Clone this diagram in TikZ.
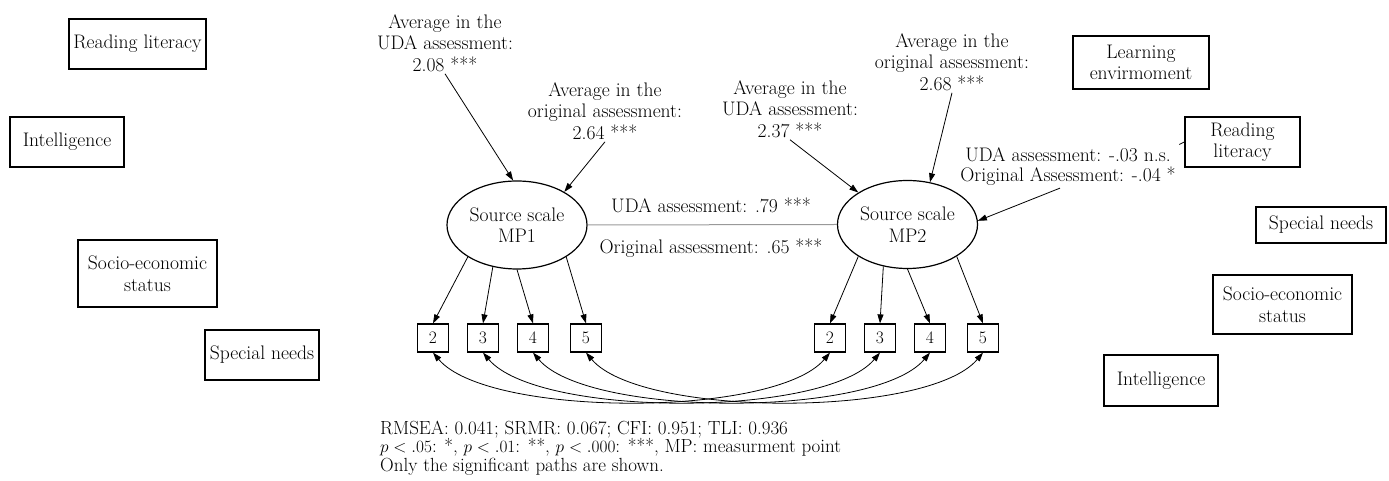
\documentclass[tikz,border=0pt]{standalone}
\usepackage{tikz}
\usetikzlibrary{arrows.meta, shapes.geometric}

\begin{document}
\begin{tikzpicture}[x=1pt, y=1pt,
        every node/.style={font=\fontsize{19.6}{21.5}\selectfont},
        covbox/.style={draw, line width=1.3pt, align=center, inner sep=2pt},
        latent/.style={draw, ellipse, line width=1.2pt, align=center, minimum width=140pt, minimum height=88pt, inner sep=0pt},
        itembox/.style={draw, line width=1.2pt, minimum width=31pt, minimum height=28pt, inner sep=0pt, font=\fontsize{17.5}{21}\selectfont},
        effect/.style={align=center, inner sep=2pt},
        onearrow/.style={-{Triangle[length=9pt, width=6pt]}, line width=0.8pt},
        twoarrow/.style={{Triangle[length=9pt, width=6pt]}-{Triangle[length=9pt, width=6pt]}, line width=0.8pt}]

            \useasboundingbox (0,0) rectangle (1389,481);

            \node[covbox, minimum width=137pt, minimum height=50pt] (readL) at (137.5,437) {Reading literacy};
            \node[covbox, minimum width=114pt, minimum height=50pt] (intelL) at (67,339) {Intelligence};
            \node[covbox, minimum width=139pt, minimum height=67pt] (sesL) at (147.5,207.5) {Socio-economic\\ status};
            \node[covbox, minimum width=114pt, minimum height=50pt] (specL) at (262,126) {Special needs};

            \node[covbox, minimum width=136pt, minimum height=53pt] (learnR) at (1141,418.5) {Learning\\ envirmoment};
            \node[covbox, minimum width=115pt, minimum height=50pt] (readR) at (1242.5,339) {Reading\\ literacy};
            \node[covbox, minimum width=130pt, minimum height=36pt] (specR) at (1321,256) {Special needs};
            \node[covbox, minimum width=139pt, minimum height=59pt] (sesR) at (1282.5,176.5) {Socio-economic\\ status};
            \node[covbox, minimum width=114pt, minimum height=51pt] (intelR) at (1161,100.5) {Intelligence};

            \node[latent] (mpone) at (517,256) {Source scale\\ MP1};
            \node[latent] (mptwo) at (907.5,256.5) {Source scale\\ MP2};

            \node[effect] (avgUone) at (445,438) {Average in the\\ UDA assessment:\\ 2.08 ***};
            \node[effect] (avgOone) at (605,370) {Average in the\\ original assessment:\\ 2.64 ***};
            \node[effect] (avgUtwo) at (790,372) {Average in the\\ UDA assessment:\\ 2.37 ***};
            \node[effect] (avgOtwo) at (952,419) {Average in the\\ original assessment:\\ 2.68 ***};
            \node[effect, font=\fontsize{19.6}{20}\selectfont] (effRead) at (1068,314) {UDA assessment: -.03 n.s.\\ Original Assessment: -.04 *};

            \node[effect] (corrU) at (711,276) {UDA assessment: .79 ***};
            \node[effect] (corrO) at (711,233) {Original assessment: .65 ***};

            \draw[black!40, line width=1pt] (mpone.east) -- (mptwo.west);

            \draw[onearrow] (avgUone.south) -- (mpone.95);
            \draw[onearrow] (avgOone.south) -- (mpone.35);
            \draw[onearrow] (avgUtwo.south) -- (mptwo.147);
            \draw[onearrow] (avgOtwo.south) -- (mptwo.62);
            \draw[onearrow] ([xshift=-8pt]effRead.south) -- (mptwo.3);
            \draw[line width=0.8pt] (readR.west) -- ++(-5,-2.5);

            \foreach \i/\dx in {2/0, 3/50, 4/100, 5/153} {
                \node[itembox] (aone\i) at (433+\dx,143) {\i};
                \node[itembox] (atwo\i) at (830+\dx,143) {\i};
            }

            \foreach \i/\ang in {2/213, 3/240, 4/270, 5/327} {
                \draw[onearrow] (mpone.\ang) -- (aone\i.north);
                \draw[onearrow] (mptwo.\ang) -- (atwo\i.north);
                \draw[twoarrow] (aone\i.south) to[out=-50, in=-130, looseness=0.55] (atwo\i.south);
            }

            \node[anchor=west, align=left, inner sep=0pt, font=\fontsize{19}{18.5}\selectfont] (note) at (380,33) {RMSEA: 0.041; SRMR: 0.067; CFI: 0.951; TLI: 0.936\\ $p < .05$: *, $p < .01$: **, $p < .000$: ***, MP: measurment point\\ Only the significant paths are shown.};

        \end{tikzpicture}
\end{document}
